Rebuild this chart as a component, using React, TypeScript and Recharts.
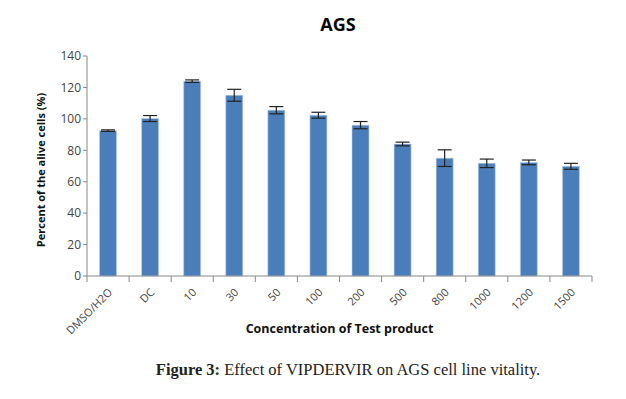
import React from "react";
import { BarChart, Bar, XAxis, YAxis, ErrorBar } from "recharts";

const categories = ["DMSO/H2O", "DC", "10", "30", "50", "100", "200", "500", "800", "1000", "1200", "1500"];
const values = [92.5, 100.2, 124, 115, 105.5, 102.3, 96, 84, 75, 71.7, 72.3, 69.8];
const errors = [0.5, 1.9, 0.8, 3.8, 2.3, 1.9, 2.3, 1.2, 5.3, 2.7, 1.5, 1.9];
const yTicks = [0, 20, 40, 60, 80, 100, 120, 140];

const data = categories.map((c, i) => ({ name: c, value: values[i], err: errors[i] }));

const FONT = "'Open Sans', 'Liberation Sans', sans-serif";
const HALF_BAND = 21.04;

const XTick = (props: any) => {
  const { x, y, payload, index } = props;
  const last = index === categories.length - 1;
  return (
    <g>
      <line x1={x - HALF_BAND} y1={y - 8} x2={x - HALF_BAND} y2={y - 2} stroke="#888" />
      {last && <line x1={x + HALF_BAND} y1={y - 8} x2={x + HALF_BAND} y2={y - 2} stroke="#888" />}
      <text
        x={x + 5}
        y={y + 9}
        textAnchor="end"
        transform={`rotate(-45, ${x + 5}, ${y + 9})`}
        fontSize={11}
        fontFamily={FONT}
        fill="#444"
      >
        {payload.value}
      </text>
    </g>
  );
};

const YLabel = () => {
  const cx = 40;
  const cy = 170;
  return (
    <text
      x={cx}
      y={cy}
      textAnchor="middle"
      dominantBaseline="central"
      transform={`rotate(-90, ${cx}, ${cy})`}
      fontSize={11}
      fontWeight={700}
      fontFamily={FONT}
      fill="#111"
    >
      Percent of the alive cells (%)
    </text>
  );
};

export default function App() {
  return (
    <div style={{ position: "absolute", left: 0, top: 0, width: 626, height: 399, background: "#fff" }}>
      <div
        style={{
          position: "absolute",
          left: 0,
          width: 626,
          top: 12,
          textAlign: "center",
          fontFamily: FONT,
          fontWeight: 700,
          fontSize: 18,
          color: "#000",
          paddingLeft: 50,
          boxSizing: "border-box",
        }}
      >
        AGS
      </div>
      <BarChart
        width={626}
        height={340}
        data={data}
        margin={{ top: 56, right: 34, left: 37, bottom: 3 }}
        barCategoryGap={12.5}
      >
        <XAxis
          dataKey="name"
          height={61}
          tick={<XTick />}
          tickLine={false}
          axisLine={{ stroke: "#888" }}
          interval={0}
        />
        <YAxis
          width={50}
          domain={[0, 140]}
          ticks={yTicks}
          tickSize={4}
          tick={{ fontSize: 12, fontFamily: FONT, fill: "#444" }}
          tickLine={{ stroke: "#888" }}
          axisLine={{ stroke: "#888" }}
          label={<YLabel />}
        />
        <Bar dataKey="value" fill="#4a7ebb" stroke="#bcd0ea" strokeWidth={0.6} isAnimationActive={false}>
          <ErrorBar dataKey="err" width={7} stroke="#222" strokeWidth={1.2} />
        </Bar>
      </BarChart>
      <div
        style={{
          position: "absolute",
          left: 87,
          width: 505,
          top: 320,
          textAlign: "center",
          fontFamily: FONT,
          fontWeight: 700,
          fontSize: 12.5,
          color: "#111",
        }}
      >
        Concentration of Test product
      </div>
      <div
        style={{
          position: "absolute",
          left: 0,
          width: 626,
          top: 360,
          textAlign: "center",
          fontFamily: "'Liberation Serif', serif",
          fontSize: 16.5,
          color: "#222",
          paddingLeft: 70,
          boxSizing: "border-box",
        }}
      >
        <b>Figure 3:</b> Effect of VIPDERVIR on AGS cell line vitality.
      </div>
    </div>
  );
}
